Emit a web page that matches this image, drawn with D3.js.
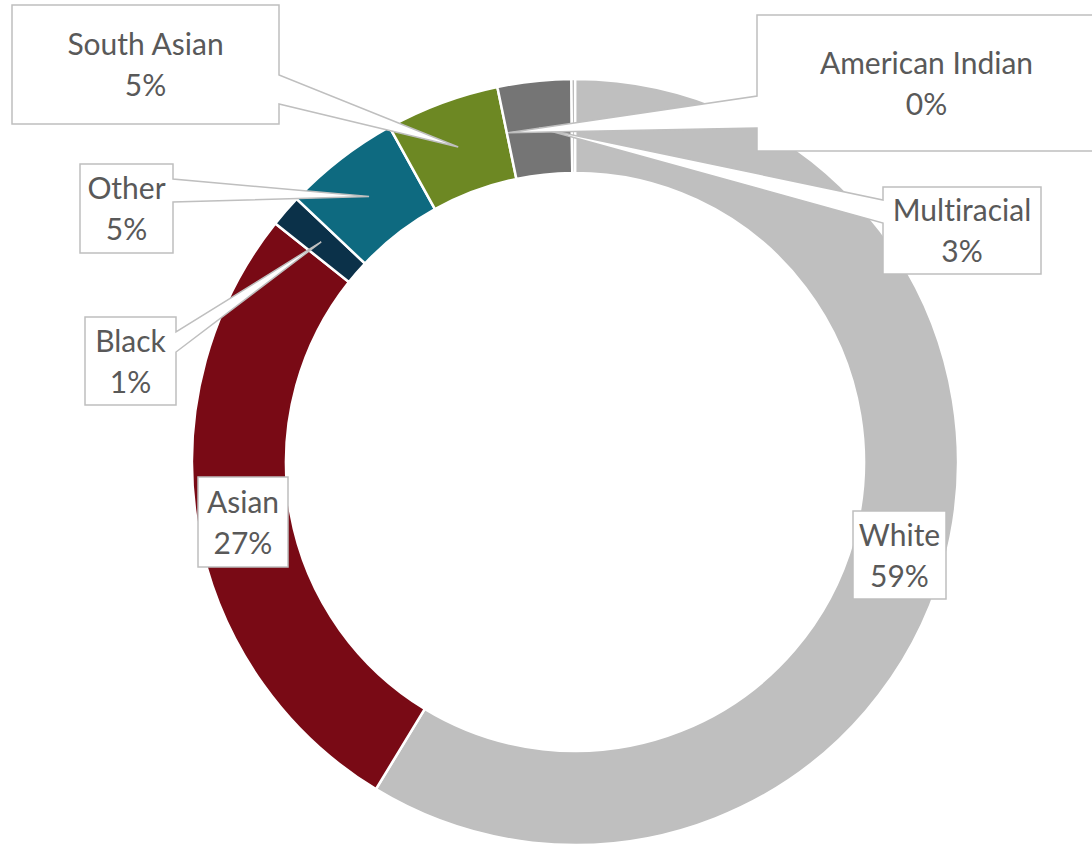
<!DOCTYPE html>
<html>
<head>
<meta charset="utf-8">
<script src="https://cdn.jsdelivr.net/npm/d3@7"></script>
<style>
  html, body { margin: 0; padding: 0; background: #fff; }
  svg { display: block; }
  text { font-family: "Lato", "Open Sans", sans-serif; fill: #595959; font-variant-ligatures: none; }
</style>
</head>
<body>
<svg id="chart" width="1092" height="845"></svg>
<script>
// Population share by group (percent), in slice order clockwise from 12 o'clock
const categories = ["White", "Asian", "Black", "Other", "South Asian", "Multiracial", "American Indian"];
const shares     = [58.7, 27.0, 1.35, 4.9, 4.8, 3.1, 0.15];
const colors     = ["#BFBFBF", "#790A15", "#0B3149", "#0E6A80", "#6D8823", "#757575", "#A5A5A5"];

// Callout boxes: [x0, y0, x1, y1]; pointer wedges attach on one side between two y values
const callouts = {
  "White":           { box: [853, 511, 946, 599] },
  "Asian":           { box: [198, 477, 288, 567] },
  "Black":           { box: [85, 317, 176, 405],  side: "right", base: [332, 352] },
  "Other":           { box: [80, 164, 173, 253],  side: "right", base: [179, 202] },
  "South Asian":     { box: [12, 5, 279, 124],    side: "right", base: [75, 104] },
  "Multiracial":     { box: [883, 187, 1041, 274], side: "left", base: [200, 223] },
  "American Indian": { box: [757, 15, 1096, 151], side: "left",  base: [96, 128], pointAngle: 348.5 }
};

const cx = 575, cy = 462, outerR = 383, innerR = 289;
const midR = (outerR + innerR) / 2;

const data = categories.map((c, i) => ({ name: c, value: shares[i], color: colors[i] }));
const pie = d3.pie().sort(null).value(d => d.value);
const arcs = pie(data);
const arc = d3.arc().innerRadius(innerR).outerRadius(outerR);

const svg = d3.select("#chart");
const g = svg.append("g").attr("transform", `translate(${cx},${cy})`);

g.selectAll("path.slice")
  .data(arcs)
  .join("path")
  .attr("class", "slice")
  .attr("d", arc)
  .attr("fill", d => d.data.color)
  .attr("stroke", "#fff")
  .attr("stroke-width", 2.5)
  .attr("stroke-linejoin", "miter");

// Point on the ring's mid-radius at a given angle (radians, clockwise from top)
function ringPoint(a) {
  return [cx + midR * Math.sin(a), cy - midR * Math.cos(a)];
}

const labels = svg.append("g");
arcs.forEach(a => {
  const c = callouts[a.data.name];
  const [x0, y0, x1, y1] = c.box;
  const ang = c.pointAngle != null ? c.pointAngle * Math.PI / 180 : (a.startAngle + a.endAngle) / 2;
  const tip = ringPoint(ang);

  const p = d3.path();
  p.moveTo(x0, y0);
  p.lineTo(x1, y0);
  if (c.side === "right") {
    p.lineTo(x1, c.base[0]);
    p.lineTo(tip[0], tip[1]);
    p.lineTo(x1, c.base[1]);
  }
  p.lineTo(x1, y1);
  p.lineTo(x0, y1);
  if (c.side === "left") {
    p.lineTo(x0, c.base[1]);
    p.lineTo(tip[0], tip[1]);
    p.lineTo(x0, c.base[0]);
  }
  p.closePath();

  const grp = labels.append("g");
  grp.append("path")
    .attr("d", p.toString())
    .attr("fill", "#fff")
    .attr("stroke", "#BFBFBF")
    .attr("stroke-width", 1.5)
    .attr("stroke-linejoin", "miter");

  const tx = (x0 + x1) / 2, ty = (y0 + y1) / 2;
  const t = grp.append("text")
    .attr("text-anchor", "middle")
    .attr("font-size", 30);
  t.append("tspan").attr("x", tx).attr("y", ty - 20).attr("dy", "0.35em").text(a.data.name);
  t.append("tspan").attr("x", tx).attr("y", ty + 21).attr("dy", "0.35em")
    .text(Math.round(a.data.value) + "%");
});
</script>
</body>
</html>
